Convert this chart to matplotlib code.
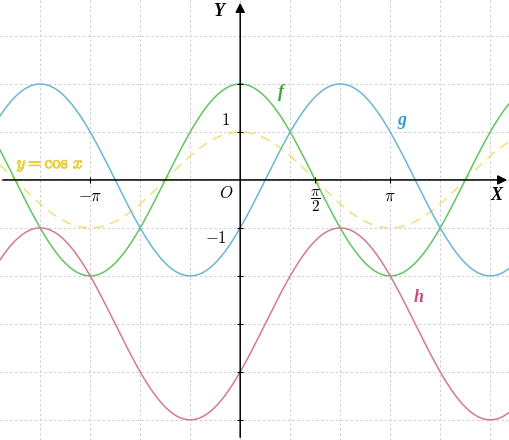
import numpy as np
import matplotlib
matplotlib.use('Agg')
import matplotlib.pyplot as plt
import matplotlib.patheffects as pe

plt.rcParams['mathtext.fontset'] = 'cm'

# curve parameters: y = amp * cos(x - phase) + shift
names = ['f', 'g', 'h', 'cos']
amps = [2, 2, 2, 1]
phases = [0, 2 * np.pi / 3, 2 * np.pi / 3, 0]
shifts = [0, 0, -3, 0]
colors = ['#62c462', '#6ab6d6', '#d4789a', '#f2dc6a']
styles = ['-', '-', '-', '--']

# labels on the axes
xtick_vals = [-np.pi, np.pi / 2, np.pi]
xtick_text = [r'$-\pi$', r'$\dfrac{\pi}{2}$', r'$\pi$']
ytick_vals = [2, 1, -1, -2, -3, -4, -5]

xmin, xmax = -5.03, 5.65
ymin, ymax = -5.42, 3.75

fig = plt.figure(figsize=(5.1, 4.4), dpi=100)
ax = fig.add_axes([0, 0, 1, 1])
ax.set_xlim(xmin, xmax)
ax.set_ylim(ymin, ymax)
for s in ax.spines.values():
    s.set_visible(False)
ax.set_xticks([])
ax.set_yticks([])

# dashed grid: pi/3 horizontally, 1 vertically
for k in range(-5, 6):
    ax.axvline(k * np.pi / 3, color='#cfcfcf', lw=0.7, ls=(0, (2.5, 2.5)), zorder=0)
for k in range(-5, 4):
    ax.axhline(k, color='#cfcfcf', lw=0.7, ls=(0, (2.5, 2.5)), zorder=0)

x = np.linspace(xmin, xmax, 800)
for n, a, p, s, c, st in zip(names, amps, phases, shifts, colors, styles):
    y = a * np.cos(x - p) + s
    if st == '--':
        ax.plot(x, y, color=c, lw=1.0, ls=(0, (7, 5)), zorder=2)
    else:
        ax.plot(x, y, color=c, lw=1.1, zorder=3)

# axes with arrows
ax.annotate('', xy=(xmax, 0), xytext=(xmin, 0),
            arrowprops=dict(arrowstyle='-|>', color='black', lw=1.1, mutation_scale=14), zorder=4)
ax.annotate('', xy=(0, ymax), xytext=(0, ymin),
            arrowprops=dict(arrowstyle='-|>', color='black', lw=1.1, mutation_scale=14), zorder=4)

ax.plot(xtick_vals, [0] * len(xtick_vals), '|', color='black', ms=4, mew=0.8, zorder=5)
ax.plot([0] * len(ytick_vals), ytick_vals, '_', color='black', ms=4, mew=0.8, zorder=5)

fs = 12
for v, t in zip(xtick_vals, xtick_text):
    ax.text(v, -0.15, t, ha='center', va='top', fontsize=fs if v != np.pi / 2 else 11)
ax.text(-0.3, 1.25, r'$1$', ha='center', va='center', fontsize=fs)
ax.text(-0.5, -1.2, r'$-1$', ha='center', va='center', fontsize=fs)
ax.text(-0.3, -0.27, r'$O$', ha='center', va='center', fontsize=fs)

bold = dict(family='Liberation Serif', style='italic', weight='bold', fontsize=13)
ax.text(-0.46, 3.52, 'Y', ha='center', va='center', **bold)
ax.text(5.36, -0.33, 'X', ha='center', va='center', **bold)
ax.text(0.86, 1.83, 'f', ha='center', va='center', color='#3aa83a', **bold)
ax.text(3.39, 1.23, 'g', ha='center', va='center', color='#3f9ccc', **bold)
ax.text(3.74, -2.46, 'h', ha='center', va='center', color='#c24f7a', **bold)
ax.text(-3.98, 0.31, r'$y=\cos\,x$', ha='center', va='center', color='#e8cf3c', fontsize=12.5,
        path_effects=[pe.withStroke(linewidth=0.7, foreground='#e8cf3c')])

fig.savefig('out.png', dpi=100)
